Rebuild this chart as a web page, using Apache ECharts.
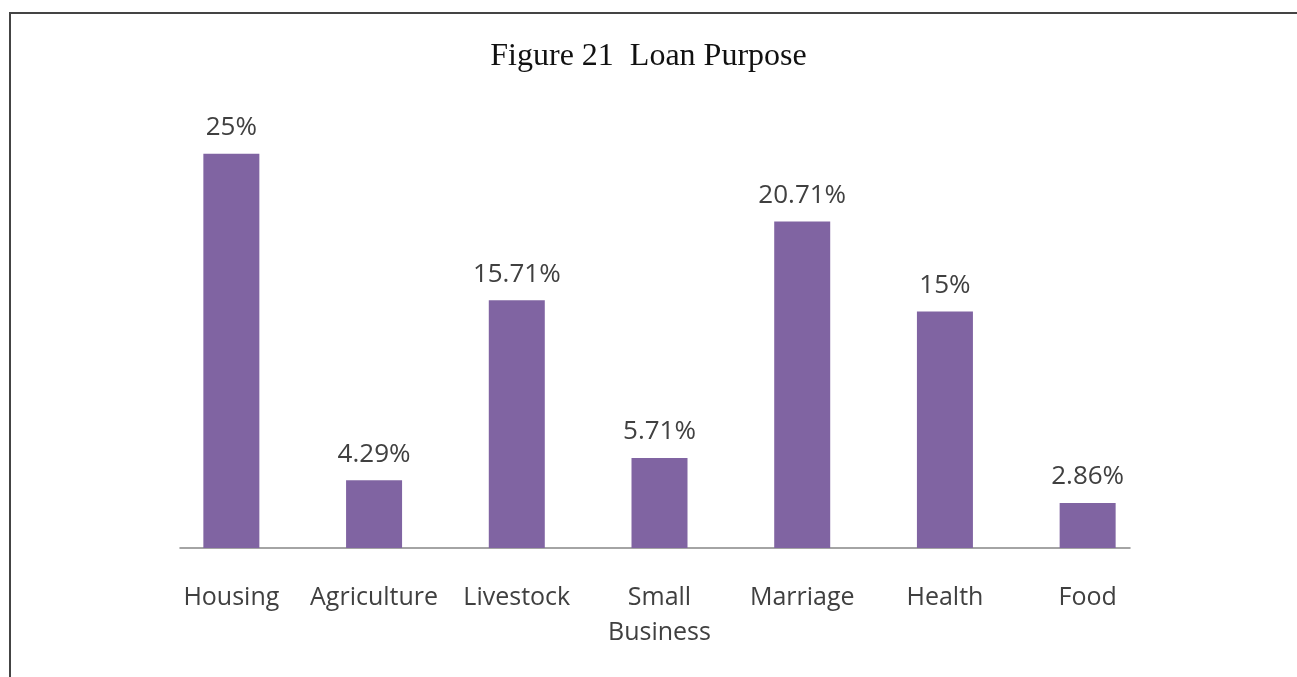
<!DOCTYPE html>
<html>
<head>
<meta charset="utf-8">
<title>Loan Purpose</title>
<script src="https://cdn.jsdelivr.net/npm/echarts@6/dist/echarts.min.js"></script>
<style>
  html, body { margin: 0; padding: 0; background: #fff; }
  #chart { width: 1297px; height: 677px; }
</style>
</head>
<body>
<div id="chart"></div>
<script>
// data
var categories = ['Housing', 'Agriculture', 'Livestock', 'Small\nBusiness', 'Marriage', 'Health', 'Food']
var shares = [25, 4.29, 15.71, 5.71, 20.71, 15, 2.86]

var chart = echarts.init(document.getElementById('chart'))

chart.setOption({
  backgroundColor: '#fff',
  animation: false,
  title: {
    text: 'Figure 21  Loan Purpose',
    left: 'center',
    top: 36,
    textStyle: {
      fontFamily: 'Liberation Serif',
      fontWeight: 'normal',
      fontSize: 32,
      color: '#111'
    }
  },
  graphic: [{
    type: 'rect',
    shape: { x: 10, y: 13, width: 1300, height: 700 },
    style: { fill: 'none', stroke: '#444', lineWidth: 2 },
    silent: true
  }],
  grid: [
    { left: 160, right: 138, top: 75, bottom: 129 },
    // the baseline in the figure is a bit shorter than the category band
    { left: 180, right: 167, top: 75, bottom: 129 }
  ],
  xAxis: [{
    type: 'category',
    data: categories,
    axisTick: { show: false },
    axisLine: { show: false },
    axisLabel: {
      interval: 0,
      margin: 32,
      fontFamily: 'Open Sans',
      fontSize: 25,
      lineHeight: 35,
      color: '#404040'
    }
  }, {
    type: 'category',
    gridIndex: 1,
    data: categories,
    axisTick: { show: false },
    axisLabel: { show: false },
    axisLine: { lineStyle: { color: '#868686', width: 1.5 } }
  }],
  yAxis: [{
    type: 'value',
    min: 0,
    max: 30,
    show: false,
    splitLine: { show: false }
  }, {
    type: 'value',
    gridIndex: 1,
    min: 0,
    max: 30,
    show: false,
    splitLine: { show: false }
  }],
  series: [{
    type: 'bar',
    data: shares,
    barWidth: 56,
    itemStyle: { color: '#8064A2' },
    label: {
      show: true,
      position: 'top',
      distance: 13,
      fontFamily: 'Open Sans',
      fontSize: 26,
      color: '#404040',
      formatter: function (p) { return p.value + '%' }
    }
  }]
})
</script>
</body>
</html>
